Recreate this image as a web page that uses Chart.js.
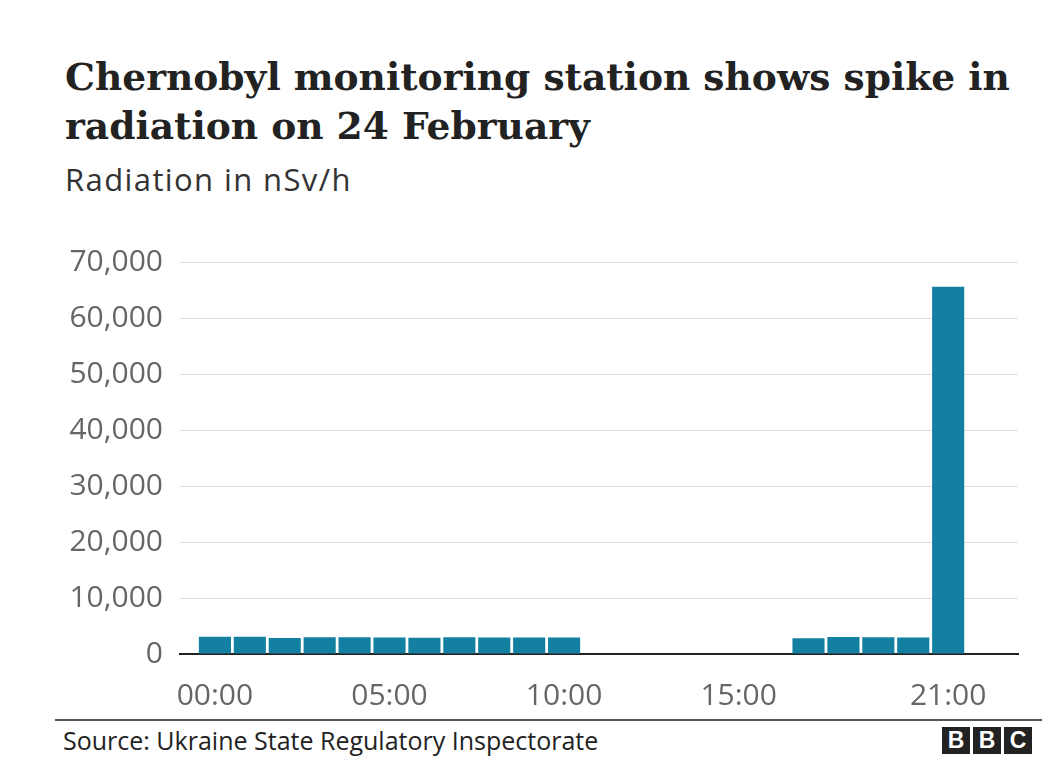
<html lang="en">
<head>
  <meta charset="UTF-8" />
  <title>Chernobyl radiation</title>
  <script src="https://cdn.jsdelivr.net/npm/chart.js"></script>
  <style>
    body { margin: 0; width: 1059px; height: 770px; background: #fff; position: relative; overflow: hidden; }
    #title { position: absolute; left: 65px; top: 53px; font: bold 37.6px "DejaVu Serif", serif; line-height: 49px; color: #222; white-space: nowrap; }
    #subtitle { position: absolute; left: 65px; top: 158px; font: 31px "Open Sans", sans-serif; letter-spacing: 1.4px; color: #333; }
    #wrap { position: absolute; left: 0; top: 227px; width: 1059px; height: 493px; }
    #rule { position: absolute; left: 55px; top: 719px; width: 987px; height: 2px; background: #555; }
    #source { position: absolute; left: 63px; top: 723px; font: 25px "Open Sans", sans-serif; color: #222; }
    #logo { position: absolute; left: 942px; top: 727px; display: flex; gap: 3px; }
    #logo span { width: 28px; height: 27px; background: #222; color: #fff; font: bold 23px "Liberation Sans", sans-serif; text-align: center; line-height: 27px; }
  </style>
</head>
<body>
  <div id="title">Chernobyl monitoring station shows spike in<br>radiation on 24 February</div>
  <div id="subtitle">Radiation in nSv/h</div>
  <div id="wrap"><canvas id="chart"></canvas></div>
  <div id="rule"></div>
  <div id="source">Source: Ukraine State Regulatory Inspectorate</div>
  <div id="logo"><span>B</span><span>B</span><span>C</span></div>

  <script>
    // hours of 24 Feb with a reading (no data 11:00-16:00)
    const hours = [0, 1, 2, 3, 4, 5, 6, 7, 8, 9, 10, 17, 18, 19, 20, 21];
    const radiation = [3100, 3100, 2850, 3000, 3000, 2950, 2900, 3000, 2950, 2950, 2950, 2800, 3050, 3000, 2950, 65600];
    const xTickHours = [0, 5, 10, 15, 21];
    const yTicks = [0, 10000, 20000, 30000, 40000, 50000, 60000, 70000];

    const fmtHour = h => String(h).padStart(2, "0") + ":00";

    new Chart(document.getElementById("chart"), {
      type: "bar",
      data: {
        datasets: [{
          data: hours.map((h, i) => ({ x: h, y: radiation[i] })),
          backgroundColor: "#1380a1",
          barPercentage: 0.92,
          categoryPercentage: 1
        }]
      },
      options: {
        responsive: true,
        maintainAspectRatio: false,
        animation: false,
        layout: { padding: { top: 29, right: 41, left: 0, bottom: 0 } },
        plugins: { legend: { display: false }, tooltip: { enabled: false } },
        scales: {
          x: {
            type: "linear",
            min: -1,
            max: 23,
            offset: false,
            grid: { display: false, offset: false },
            border: { color: "#222", width: 2 },
            afterBuildTicks: axis => { axis.ticks = xTickHours.map(v => ({ value: v })); },
            afterFit: axis => { axis.height = 66; },
            ticks: {
              autoSkip: false,
              maxRotation: 0,
              padding: 16,
              color: "#666",
              font: { family: "Open Sans", size: 30 },
              callback: v => fmtHour(v)
            }
          },
          y: {
            min: 0,
            max: 70000,
            afterBuildTicks: axis => { axis.ticks = yTicks.map(v => ({ value: v })); },
            afterFit: axis => { axis.width = 180; },
            border: { display: false },
            grid: {
              drawTicks: false,
              color: ctx => ctx.tick && ctx.tick.value === 0 ? "rgba(0,0,0,0)" : "#dcdcdc",
              lineWidth: 1
            },
            ticks: {
              padding: 17,
              color: "#666",
              font: { family: "Open Sans", size: 30 },
              callback: v => v.toLocaleString("en-GB")
            }
          }
        }
      }
    });
  </script>
</body>
</html>
